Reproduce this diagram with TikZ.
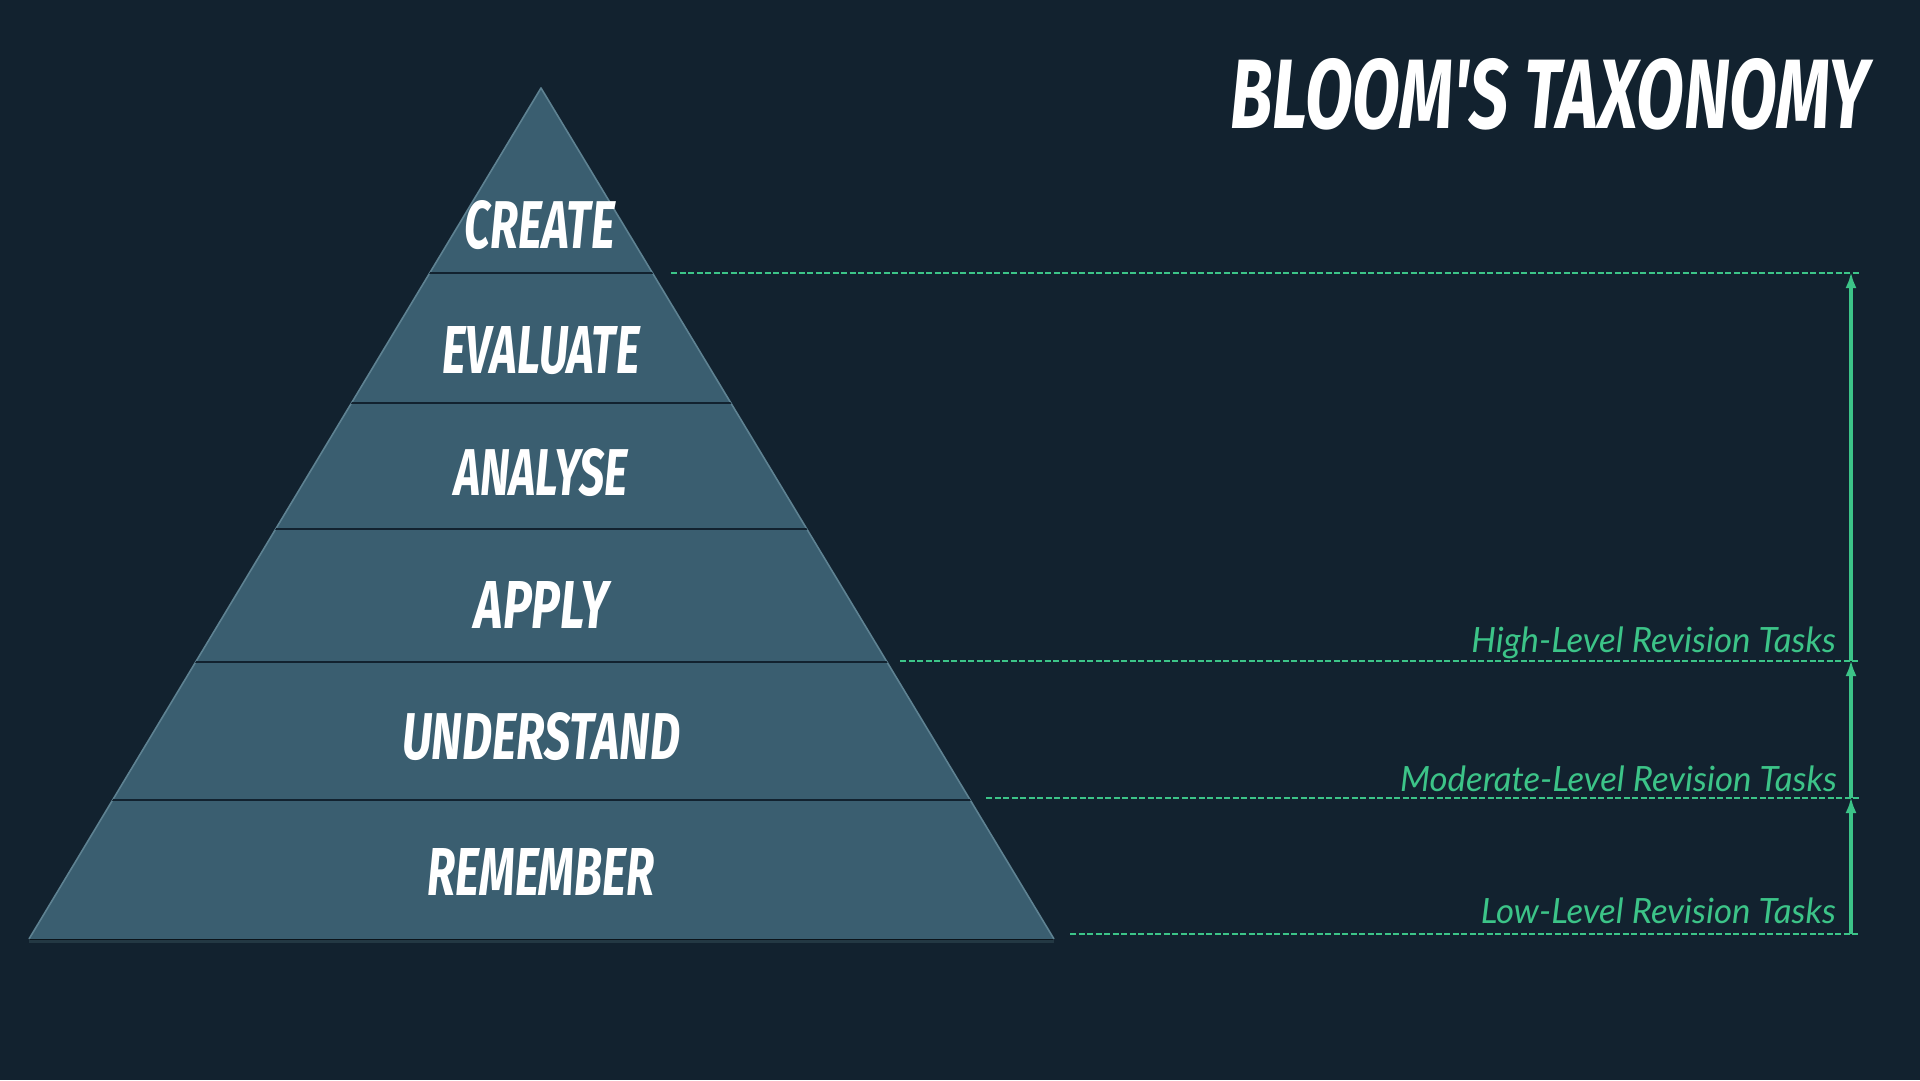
\documentclass[tikz,border=0pt]{standalone}
\usepackage{fontspec}
\usepackage{graphicx}
\setmainfont{Lato}
\newfontfamily\brushfont{Fira Sans}
\usetikzlibrary{arrows.meta}
\definecolor{bgc}{HTML}{12222F}
\definecolor{pyr}{HTML}{3A5E70}
\definecolor{pyredge}{HTML}{5E8292}
\definecolor{grn}{HTML}{3CC488}
\tikzset{
  level/.style={text=white, inner sep=0pt, anchor=center},
  sep/.style={draw=bgc, line width=1.4pt},
  guide/.style={draw=grn, line width=2pt, dash pattern=on 6pt off 2.5pt},
  rise/.style={draw=grn, line width=4pt, -{Latex[length=16pt,width=11pt]}, shorten >=-1pt},
  tasklbl/.style={text=grn, anchor=base east, inner sep=0pt, font=\fontsize{34.8}{38}\selectfont\itshape}
}
\newcommand{\brush}[3]{\resizebox{#1pt}{#2pt}{\brushfont\bfseries\itshape #3}}
\begin{document}
\begin{tikzpicture}[x=1pt,y=-1pt]
\fill[bgc] (0,0) rectangle (1920,1080);
\useasboundingbox (0,0) rectangle (1920,1080);
% pyramid
\coordinate (apex) at (541,88);
\coordinate (bl) at (29,939);
\coordinate (br) at (1054,939);
\fill[black!70!bgc] (29,939) -- (1054,939) -- (1054,943) -- (29,943) -- cycle;
\fill[pyr] (apex) -- (br) -- (bl) -- cycle;
\draw[pyredge, line width=1.6pt, line join=round] (bl) -- (apex) -- (br);
\draw[black!40!pyr, line width=3pt] ([yshift=-2pt]bl) -- ([yshift=-2pt]br);
\begin{scope}
\clip (apex) -- (br) -- (bl) -- cycle;
\foreach \yy in {273,403,529,662,800} {
  \draw[sep] (0,\yy) -- (1100,\yy);
}
\end{scope}
% level labels
\node[level] (create) at (540,225) {\brush{150}{48}{CREATE}};
\node[level] (evaluate) at (541,351) {\brush{197}{47}{EVALUATE}};
\node[level] (analyse) at (541,473) {\brush{174}{47}{ANALYSE}};
\node[level] (apply) at (542,605) {\brush{134}{47}{APPLY}};
\node[level] (understand) at (541,737) {\brush{278}{47}{UNDERSTAND}};
\node[level] (remember) at (541,872) {\brush{227}{47}{REMEMBER}};
% title
\node[level] (title) at (1550,94) {\brush{639}{70}{BLOOM'S TAXONOMY}};
% guide lines
\coordinate (g1s) at (671,273); \coordinate (g1e) at (1860,273);
\coordinate (g2s) at (900,661); \coordinate (g2e) at (1860,661);
\coordinate (g3s) at (986,798); \coordinate (g3e) at (1860,798);
\coordinate (g4s) at (1070,934); \coordinate (g4e) at (1860,934);
\draw[guide] (g1s) -- (g1e);
\draw[guide] (g2s) -- (g2e);
\draw[guide] (g3s) -- (g3e);
\draw[guide] (g4s) -- (g4e);
% arrows
\coordinate (a1) at (1851,273);
\coordinate (a2) at (1851,661);
\coordinate (a3) at (1851,798);
\coordinate (a4) at (1851,934);
\draw[rise] (a4) -- (a3);
\draw[rise] (a3) -- (a2);
\draw[rise] (a2) -- (a1);
% task labels
\node[tasklbl] (high) at (1836,652) {High-Level Revision Tasks};
\node[tasklbl] (moderate) at (1837,791) {Moderate-Level Revision Tasks};
\node[tasklbl] (low) at (1836,923) {Low-Level Revision Tasks};
\end{tikzpicture}
\end{document}
